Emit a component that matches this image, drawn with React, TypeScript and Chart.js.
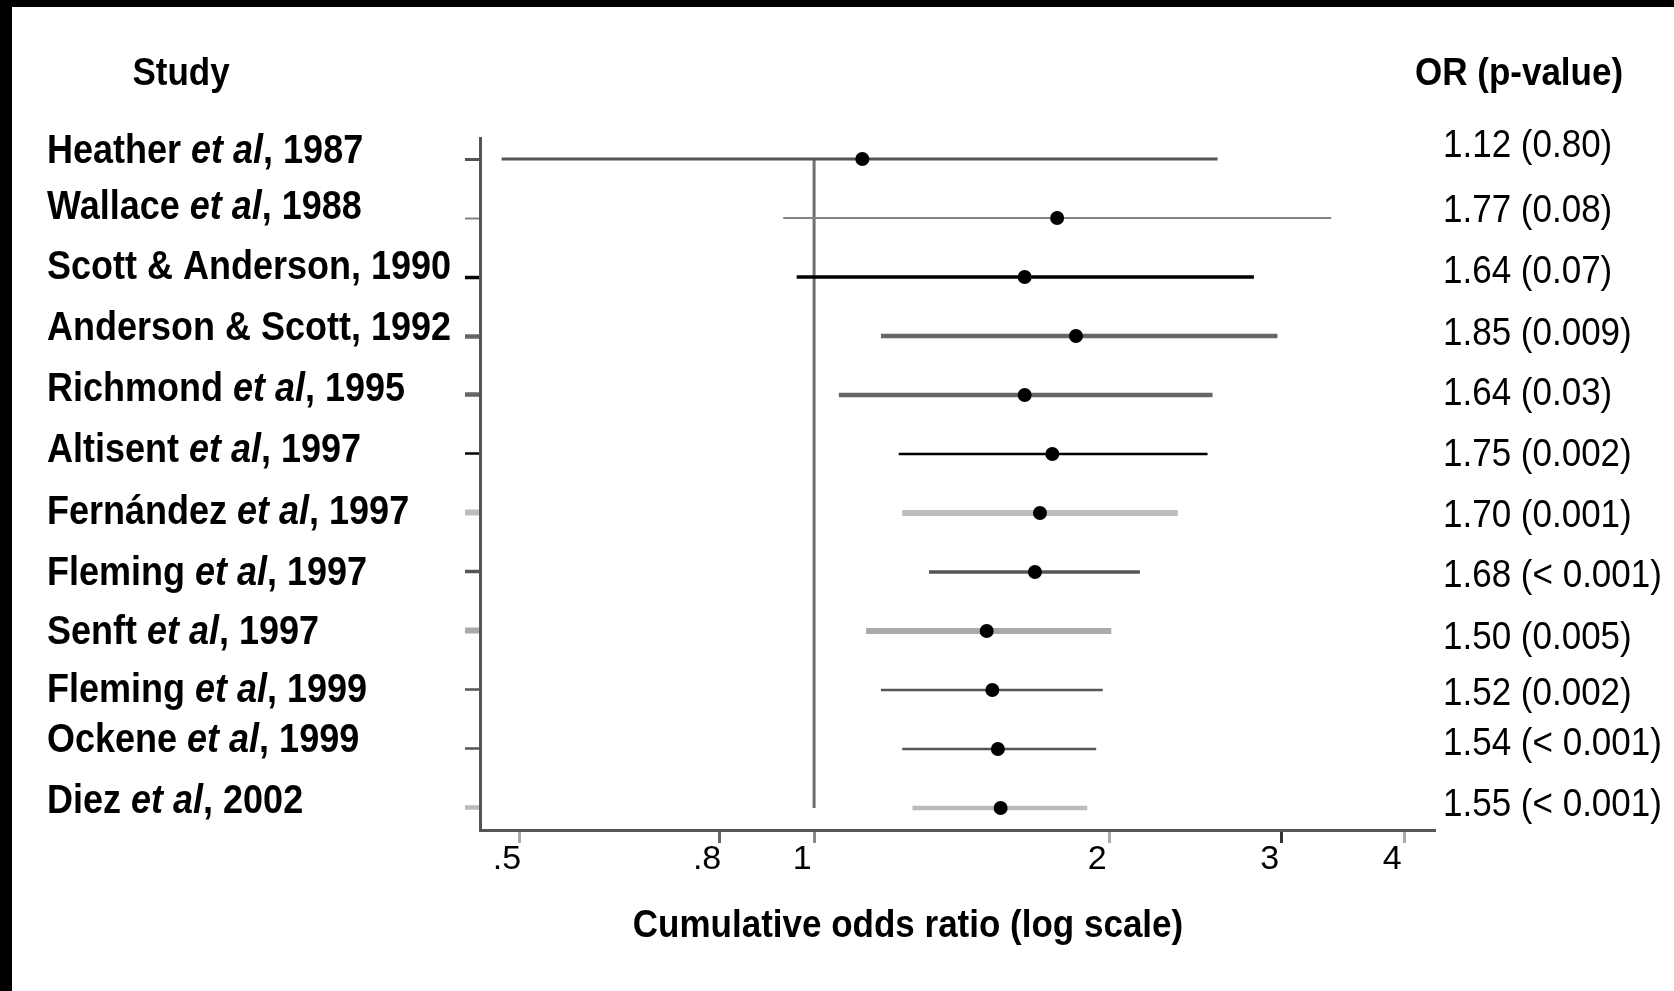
import React, { useEffect, useRef } from "react";
import { Chart, registerables } from "chart.js";

Chart.register(...registerables);

const studies = [
  "Heather et al, 1987",
  "Wallace et al, 1988",
  "Scott & Anderson, 1990",
  "Anderson & Scott, 1992",
  "Richmond et al, 1995",
  "Altisent et al, 1997",
  "Fernández et al, 1997",
  "Fleming et al, 1997",
  "Senft et al, 1997",
  "Fleming et al, 1999",
  "Ockene et al, 1999",
  "Diez et al, 2002",
];
const oddsRatios = [1.12, 1.77, 1.64, 1.85, 1.64, 1.75, 1.70, 1.68, 1.50, 1.52, 1.54, 1.55];
const ciLow = [0.48, 0.93, 0.96, 1.17, 1.06, 1.22, 1.23, 1.31, 1.13, 1.17, 1.23, 1.26];
const ciHigh = [2.58, 3.37, 2.81, 2.97, 2.55, 2.52, 2.35, 2.15, 2.01, 1.97, 1.94, 1.90];
const pValues = ["0.80", "0.08", "0.07", "0.009", "0.03", "0.002", "0.001", "< 0.001", "0.005", "0.002", "< 0.001", "< 0.001"];
const xTicks = [0.5, 0.8, 1, 2, 3, 4];
const xTickLabels = [".5", ".8", "1", "2", "3", "4"];

// styling / layout (not data)
const rowColors = ["#555555", "#858585", "#000000", "#666666", "#666666", "#000000", "#bdbdbd", "#555555", "#aaaaaa", "#555555", "#555555", "#bbbbbb"];
const rowWidths = [3, 2, 3.5, 4.5, 4.5, 2.5, 6, 3.5, 6, 2.5, 2.5, 4.5];
const xTickColors = ["#aaaaaa", "#666666", "#888888", "#aaaaaa", "#333333", "#aaaaaa"];
const labelNudge = [-3, -6, -5, -3, -1, 1, 4, 6, 6, 5, -4, -2];
const valueNudge = [-11, -5, -3, 0, 1, 3, 5, 6, 9, 6, -3, -1];

const FONT = "'Liberation Sans', Arial, sans-serif";
const STRETCH = 1.12;

function drawStretched(ctx: CanvasRenderingContext2D, segs: { t: string; f: string }[], x: number, y: number, align: "left" | "center") {
  ctx.save();
  let total = 0;
  for (const s of segs) {
    ctx.font = s.f;
    total += ctx.measureText(s.t).width;
  }
  let cx = align === "center" ? x - total / 2 : x;
  ctx.translate(0, y);
  ctx.scale(1, STRETCH);
  ctx.textBaseline = "alphabetic";
  ctx.textAlign = "left";
  ctx.fillStyle = "#000";
  for (const s of segs) {
    ctx.font = s.f;
    ctx.fillText(s.t, cx, 0);
    cx += ctx.measureText(s.t).width;
  }
  ctx.restore();
}

const textPlugin = {
  id: "forestText",
  afterDraw(chart: any) {
    const ctx: CanvasRenderingContext2D = chart.ctx;
    const y = chart.scales.y;
    const bold = `bold 35px ${FONT}`;
    const lbl = `bold 36px ${FONT}`;
    const lblIt = `italic bold 36px ${FONT}`;
    const reg = `35px ${FONT}`;
    drawStretched(ctx, [{ t: "Study", f: bold }], 181, 85, "center");
    drawStretched(ctx, [{ t: "OR (p-value)", f: bold }], 1415, 85, "left");
    studies.forEach((name, i) => {
      const py = y.getPixelForValue(i);
      const parts = name.split("et al");
      const segs =
        parts.length > 1
          ? [
              { t: parts[0], f: lbl },
              { t: "et al", f: lblIt },
              { t: parts[1], f: lbl },
            ]
          : [{ t: name, f: lbl }];
      drawStretched(ctx, segs, 47, py + 7 + labelNudge[i], "left");
      drawStretched(ctx, [{ t: `${oddsRatios[i].toFixed(2)} (${pValues[i]})`, f: reg }], 1443, py + 9 + valueNudge[i], "left");
    });
    drawStretched(ctx, [{ t: "Cumulative odds ratio (log scale)", f: bold }], 908, 937, "center");
    ctx.save();
    ctx.fillStyle = "#000";
    ctx.fillRect(0, 0, chart.width, 7);
    ctx.fillRect(0, 0, 12, chart.height);
    ctx.restore();
  },
};

export default function App() {
  const ref = useRef<HTMLCanvasElement | null>(null);
  useEffect(() => {
    document.body.style.margin = "0";
    document.body.style.overflow = "hidden";
    document.documentElement.style.overflow = "hidden";
    const canvas = ref.current!;
    const ciSets = studies.map((s, i) => ({
      type: "line" as const,
      label: s,
      data: [
        { x: ciLow[i], y: i },
        { x: ciHigh[i], y: i },
      ],
      borderColor: rowColors[i],
      borderWidth: rowWidths[i],
      pointRadius: 0,
      showLine: true,
      borderCapStyle: "butt" as const,
    }));
    const chart = new Chart(canvas, {
      type: "scatter",
      data: {
        datasets: [
          {
            label: "OR",
            data: oddsRatios.map((v, i) => ({ x: v, y: i })),
            pointRadius: 7,
            pointBackgroundColor: "#000",
            pointBorderColor: "#000",
            pointBorderWidth: 0,
          } as any,
          ...ciSets,
          {
            type: "line",
            label: "ref",
            data: [
              { x: 1, y: 0 },
              { x: 1, y: 11 },
            ],
            borderColor: "#707070",
            borderWidth: 3,
            pointRadius: 0,
            showLine: true,
          },
        ],
      },
      options: {
        animation: false,
        responsive: false,
        devicePixelRatio: 1,
        layout: { padding: { left: 0, top: 138, right: 239, bottom: 0 } },
        plugins: { legend: { display: false }, tooltip: { enabled: false }, title: { display: false } },
        scales: {
          x: {
            type: "logarithmic",
            position: "bottom",
            min: 0.4562,
            max: 4.3,
            afterBuildTicks: (scale: any) => {
              scale.ticks = xTicks.map((v) => ({ value: v }));
            },
            afterFit: (scale: any) => {
              scale.height = 161;
            },
            ticks: {
              autoSkip: false,
              maxRotation: 0,
              color: "#000",
              font: { family: FONT, size: 34, lineHeight: 1 },
              padding: 0,
              labelOffset: -12,
              callback: (v: any) => {
                const idx = xTicks.indexOf(Number(v));
                return idx >= 0 ? xTickLabels[idx] : "";
              },
            },
            grid: {
              drawOnChartArea: false,
              drawTicks: true,
              tickLength: 13,
              tickWidth: 3,
              tickColor: xTickColors,
            },
            border: { color: "#555555", width: 3 },
          },
          y: {
            type: "linear",
            reverse: true,
            min: -0.356,
            max: 11.373,
            afterBuildTicks: (scale: any) => {
              scale.ticks = studies.map((_, i) => ({ value: i }));
            },
            afterFit: (scale: any) => {
              scale.width = 480;
            },
            ticks: { display: false },
            grid: {
              drawOnChartArea: false,
              drawTicks: true,
              tickLength: 15,
              tickColor: rowColors,
              tickWidth: rowWidths,
            },
            border: { color: "#555555", width: 3 },
          },
        },
      },
      plugins: [textPlugin],
    } as any);
    return () => chart.destroy();
  }, []);
  return (
    <div style={{ width: 1674, height: 991, background: "#fff", overflow: "hidden" }}>
      <canvas ref={ref} width={1674} height={991} style={{ display: "block" }} />
    </div>
  );
}
